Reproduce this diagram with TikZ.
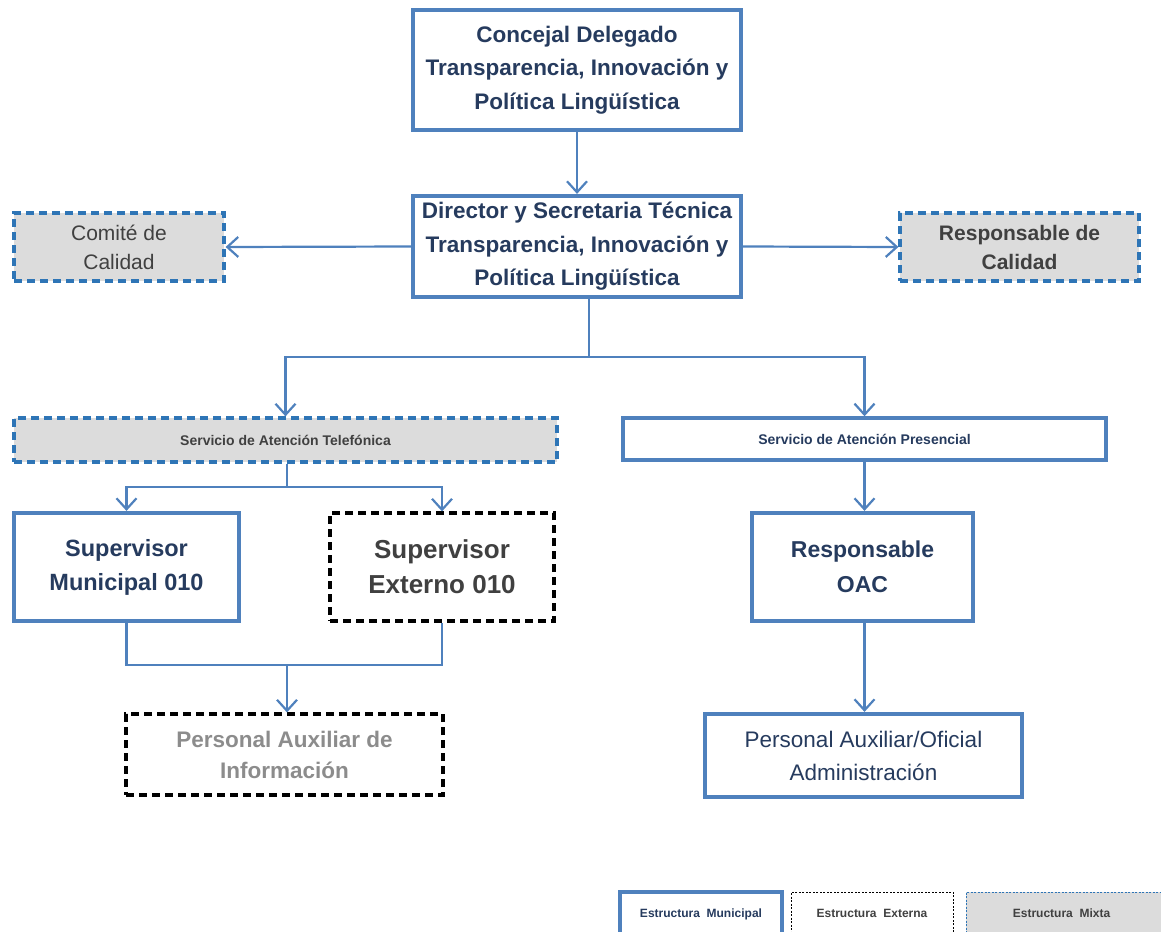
\documentclass[tikz,border=0pt]{standalone}
\usepackage{fontspec}
\setmainfont{Liberation Sans}
\usetikzlibrary{arrows.meta}
\definecolor{mblue}{HTML}{4F81BD}
\definecolor{dblue}{HTML}{2E75B6}
\definecolor{navy}{HTML}{263B5E}
\definecolor{dgray}{HTML}{404040}
\definecolor{lgray}{HTML}{8C8C8C}
\definecolor{fillg}{HTML}{DCDCDC}
\tikzset{
  municipal/.style={draw=mblue, line width=4.2pt, fill=white, rectangle, align=center, inner sep=0pt},
  externa/.style={draw=black, line width=3.2pt, dash pattern=on 8pt off 5pt, fill=white, rectangle, align=center, inner sep=0pt},
  mixta/.style={draw=dblue, line width=3.2pt, dash pattern=on 8pt off 5pt, fill=fillg, rectangle, align=center, inner sep=0pt},
  conn/.style={draw=mblue, line width=2.2pt},
  arr/.style={conn, -{Straight Barb[length=11pt,width=20pt,line width=2.2pt]}},
  bigtxt/.style={font=\fontsize{22.5}{33.5}\selectfont\bfseries, text=navy},
  legtxt/.style={font=\fontsize{12}{14}\selectfont\bfseries},
}
\begin{document}
\begin{tikzpicture}[x=1pt,y=-1pt]
\useasboundingbox (0,0) rectangle (1161,931);
% main boxes
\node[municipal, bigtxt, minimum width=328pt, minimum height=120pt] (conc) at (577,70)
  {Concejal Delegado\\Transparencia, Innovación y\\Política Lingüística};
\node[municipal, bigtxt, minimum width=328pt, minimum height=101pt] (dir) at (577,246.5)
  {Director y Secretaria Técnica\\Transparencia, Innovación y\\Política Lingüística};
\node[mixta, minimum width=210pt, minimum height=68pt, text=dgray, font=\fontsize{21}{29}\selectfont] (com) at (119,247)
  {Comité de\\Calidad};
\node[mixta, minimum width=239pt, minimum height=68pt, text=dgray, font=\fontsize{21}{29}\selectfont\bfseries] (rc) at (1019.5,247)
  {Responsable de\\Calidad};
\node[mixta, minimum width=543pt, minimum height=44pt, text=dgray, font=\fontsize{14}{16}\selectfont\bfseries] (tel) at (285.5,440)
  {Servicio de Atención Telefónica};
\node[municipal, line width=3.4pt, minimum width=483pt, minimum height=42pt, text=navy, font=\fontsize{14}{16}\selectfont\bfseries] (pres) at (864.5,439)
  {Servicio de Atención Presencial};
\node[municipal, minimum width=225pt, minimum height=108pt, text=navy, font=\fontsize{23.5}{34}\selectfont\bfseries] (smun) at (126.5,567)
  {Supervisor\\Municipal 010};
\node[externa, minimum width=224pt, minimum height=108pt, text=dgray, font=\fontsize{26}{35}\selectfont\bfseries] (sext) at (442,567)
  {Supervisor\\Externo 010};
\node[externa, minimum width=317pt, minimum height=81pt, text=lgray, font=\fontsize{22.5}{31}\selectfont\bfseries] (paux) at (284.5,754.5)
  {Personal Auxiliar de\\Información};
\node[municipal, minimum width=221pt, minimum height=108pt, text=navy, font=\fontsize{23}{35}\selectfont\bfseries] (oac) at (862.5,567)
  {Responsable\\OAC};
\node[municipal, minimum width=317pt, minimum height=83pt, text=navy, font=\fontsize{22.5}{33}\selectfont] (pofi) at (863.5,755.5)
  {Personal Auxiliar/Oficial\\Administración};
% legend
\node[municipal, line width=3.4pt, minimum width=162pt, minimum height=46pt, text=navy, legtxt] (lm) at (701,915)
  {\raisebox{4pt}{Estructura\ \ Municipal}};
\node[draw=black, line width=0.9pt, dash pattern=on 2pt off 1.5pt, rectangle, minimum width=162pt, minimum height=46pt, text=dgray, legtxt] (le) at (872,915)
  {\raisebox{4pt}{Estructura\ \ Externa}};
\node[draw=dblue, fill=fillg, line width=0.9pt, dash pattern=on 2pt off 1.5pt, rectangle, minimum width=199pt, minimum height=46pt, text=dgray, legtxt] (lx) at (1065.5,915)
  {\hspace*{-8pt}\raisebox{4pt}{Estructura\ \ Mixta}};
% connectors
\draw[arr] (conc.south) -- (dir.north);
\draw[arr] (dir.west) -- (com.east);
\draw[arr] (dir.east) -- (rc.west);
\coordinate (j1) at (589,357);
\draw[conn] (dir.south -| j1) -- (j1);
\draw[arr] (j1) -| (tel.north);
\draw[arr] (j1) -| (pres.north);
\coordinate (j2) at (287,487);
\draw[conn] (tel.south -| j2) -- (j2);
\draw[arr] (j2) -| (smun.north);
\draw[arr] (j2) -| (sext.north);
\coordinate (j3) at (287,665);
\draw[conn] (smun.south) |- (j3) -| (sext.south);
\draw[arr] (j3) -- (paux.north -| j3);
\draw[arr] (pres.south) -- (pres.south |- oac.north);
\draw[arr] (oac.south -| pres.south) -- (pres.south |- pofi.north);
\end{tikzpicture}
\end{document}
